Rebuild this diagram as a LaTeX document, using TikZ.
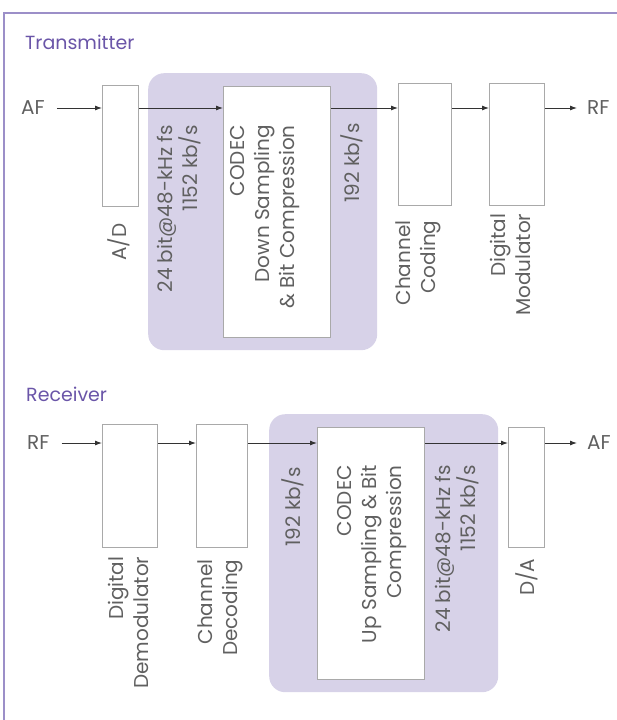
\documentclass[tikz,border=0pt]{standalone}
\usepackage{fontspec}
\setmainfont{Poppins}
\usetikzlibrary{arrows.meta, positioning, calc}

\definecolor{framepurple}{HTML}{9C8FC8}
\definecolor{titlepurple}{HTML}{6A55A8}
\definecolor{codecshade}{HTML}{D7D2E8}
\definecolor{boxgray}{HTML}{A9A9A9}
\definecolor{textgray}{HTML}{606060}

\begin{document}
\begin{tikzpicture}[x=1pt, y=-1pt, >=Latex]
    \tikzstyle{block} = [rectangle, draw=boxgray, line width=1.4pt, fill=white, anchor=north west, inner sep=0pt]
    \tikzstyle{codecarea} = [rectangle, fill=codecshade, rounded corners=16pt, anchor=north west, inner sep=0pt]
    \tikzstyle{vlabel} = [rotate=90, anchor=east, align=right, text=textgray, font=\fontsize{20}{25}\selectfont, inner sep=0pt]
    \tikzstyle{sig} = [text=textgray, font=\fontsize{20}{24}\selectfont, inner sep=0pt, anchor=west]
    \tikzstyle{heading} = [text=titlepurple, font=\fontsize{19}{23}\selectfont, anchor=base west, inner sep=0pt]
    \tikzstyle{line} = [draw=black!80, line width=0.9pt, -{Latex[length=7pt, width=5pt]}]

    \useasboundingbox (0,0) rectangle (617,720);
    \draw[framepurple, line width=1.2pt] (617,13) -- (4,13) -- (4,720);

    % transmitter
    \node [heading] (txtitle) at (25,49) {Transmitter};
    \node [codecarea, minimum width=229pt, minimum height=277pt] (txarea) at (148,73) {};
    \node [sig] (afin) at (21,108) {AF};
    \node [block, minimum width=36pt, minimum height=121pt] (adc) at (102,85) {};
    \node [block, minimum width=107pt, minimum height=251pt] (txcodec) at (223,86) {};
    \node [block, minimum width=53pt, minimum height=122pt] (chcod) at (398,83) {};
    \node [block, minimum width=55pt, minimum height=122pt] (dmod) at (489,83) {};
    \node [sig] (rfout) at (587,108) {RF};

    \node [vlabel, below=16pt of adc, anchor=east, yshift=2pt] (adclbl) {A/D};
    \node [vlabel, below=14pt of chcod, anchor=east, yshift=7pt] (chcodlbl) {Channel\\Coding};
    \node [vlabel, below=7pt of dmod, anchor=east, yshift=7pt] (dmodlbl) {Digital\\Modulator};
    \node [vlabel] (txrate) at (179,125) {24 bit@48-kHz fs\\1152 kb/s};
    \node [vlabel] (txcodeclbl) at (265,125) {CODEC\\Down Sampling\\\& Bit Compression};
    \node [vlabel] (txbits) at (352,123) {192 kb/s};

    \path [line, shorten <=12pt] (afin.east) -- (afin.east -| adc.west);
    \path [line] (afin.east -| adc.east) -- (afin.east -| txcodec.west);
    \path [line] (afin.east -| txcodec.east) -- (afin.east -| chcod.west);
    \path [line] (afin.east -| chcod.east) -- (afin.east -| dmod.west);
    \path [line, shorten >=10pt] (afin.east -| dmod.east) -- (rfout.west |- afin.east);

    % receiver
    \node [heading] (rxtitle) at (26,401) {Receiver};
    \node [codecarea, minimum width=229pt, minimum height=278pt] (rxarea) at (269,414) {};
    \node [sig] (rfin) at (27,443) {RF};
    \node [block, minimum width=55pt, minimum height=123pt] (demod) at (102,424) {};
    \node [block, minimum width=51pt, minimum height=123pt] (chdec) at (196,424) {};
    \node [block, minimum width=107pt, minimum height=252pt] (rxcodec) at (317,427) {};
    \node [block, minimum width=36pt, minimum height=120pt] (dac) at (508,427) {};
    \node [sig] (afout) at (587,443) {AF};

    \node [vlabel, below=8pt of demod, anchor=east, yshift=2pt] (demodlbl) {Digital\\Demodulator};
    \node [vlabel, below=11pt of chdec, anchor=east, yshift=2pt] (chdeclbl) {Channel\\Decoding};
    \node [vlabel, below=10pt of dac, anchor=east] (daclbl) {D/A};
    \node [vlabel] (rxbits) at (293,467) {192 kb/s};
    \node [vlabel] (rxcodeclbl) at (372,465) {CODEC\\Up Sampling \& Bit\\Compression};
    \node [vlabel] (rxrate) at (457,465) {24 bit@48-kHz fs\\1152 kb/s};

    \path [line, shorten <=12pt] (rfin.east) -- (rfin.east -| demod.west);
    \path [line] (rfin.east -| demod.east) -- (rfin.east -| chdec.west);
    \path [line] (rfin.east -| chdec.east) -- (rfin.east -| rxcodec.west);
    \path [line] (rfin.east -| rxcodec.east) -- (rfin.east -| dac.west);
    \path [line, shorten >=10pt] (rfin.east -| dac.east) -- (afout.west |- rfin.east);
\end{tikzpicture}
\end{document}
